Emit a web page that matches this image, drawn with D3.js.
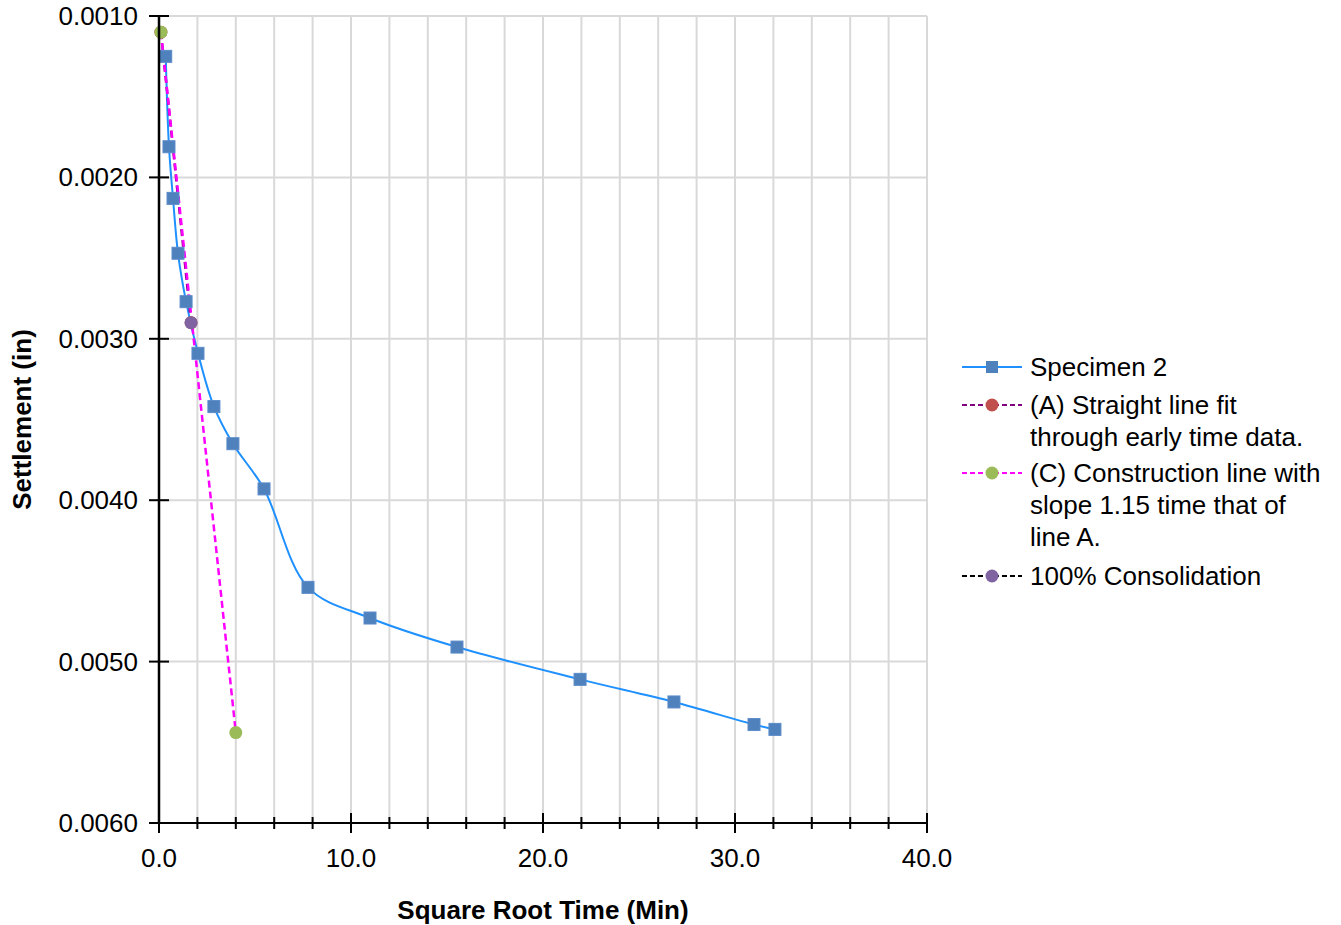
<!DOCTYPE html>
<html>
<head>
<meta charset="utf-8">
<script src="https://cdn.jsdelivr.net/npm/d3@7"></script>
<style>
  html, body { margin: 0; padding: 0; background: #fff; }
  svg { display: block; font-family: "Liberation Sans", Arial, sans-serif; }
</style>
</head>
<body>
<svg id="chart" width="1341" height="925"></svg>
<script>
// Specimen 2: square root of elapsed time (min^0.5) vs settlement (in)
const rootTime = [0.35, 0.52, 0.73, 0.99, 1.41, 2.03, 2.86, 3.85, 5.47, 7.76, 10.99, 15.52, 21.93, 26.82, 30.99, 32.08];
const settlement = [0.00125, 0.00181, 0.00213, 0.00247, 0.00277, 0.00309, 0.00342, 0.00365, 0.00393, 0.00454, 0.00473, 0.00491, 0.00511, 0.00525, 0.00539, 0.00542];

// (A) straight line through the early time data
const lineAX = [0.1, 1.67];
const lineAY = [0.00110, 0.00290];

// (C) construction line, slope 1.15 times that of line A
const lineCX = [0.1, 4.0];
const lineCY = [0.00110, 0.00544];

// 100% consolidation point
const consolX = [1.67];
const consolY = [0.00290];

const xTicks = [0, 10, 20, 30, 40];
const xMinorTicks = d3.range(0, 40.001, 2);
const yTicks = [0.001, 0.002, 0.003, 0.004, 0.005, 0.006];

const legendItems = [
  { lines: ["Specimen 2"], stroke: "#1e90ff", dash: null, marker: "square", fill: "#4f81bd" },
  { lines: ["(A) Straight line fit", "through early time data."], stroke: "#800080", dash: "5,3", marker: "circle", fill: "#c0504d" },
  { lines: ["(C) Construction line with", "slope 1.15 time that of", "line A."], stroke: "#ff00ff", dash: "5,3", marker: "circle", fill: "#9bbb59" },
  { lines: ["100% Consolidation"], stroke: "#000000", dash: "5,3", marker: "circle", fill: "#8064a2" }
];

const svg = d3.select("#chart");
const plot = { left: 159, right: 927, top: 16, bottom: 823 };
const FS = 26;

const x = d3.scaleLinear().domain([0, 40]).range([plot.left, plot.right]);
const y = d3.scaleLinear().domain([0.001, 0.006]).range([plot.top, plot.bottom]);

// gridlines
const grid = svg.append("g");
grid.selectAll("line.v").data(xMinorTicks.filter(d => d > 0)).enter().append("line")
  .attr("x1", d => x(d)).attr("x2", d => x(d))
  .attr("y1", plot.top).attr("y2", plot.bottom)
  .attr("stroke", "#d9d9d9").attr("stroke-width", 2);
grid.selectAll("line.h").data(yTicks.filter(d => d < 0.006)).enter().append("line")
  .attr("x1", plot.left).attr("x2", plot.right)
  .attr("y1", d => y(d)).attr("y2", d => y(d))
  .attr("stroke", "#d9d9d9").attr("stroke-width", 2);

// specimen curve
const pts = rootTime.map((t, i) => [t, settlement[i]]);
svg.append("path")
  .datum(pts)
  .attr("fill", "none")
  .attr("stroke", "#1e90ff")
  .attr("stroke-width", 2)
  .attr("d", d3.line().x(d => x(d[0])).y(d => y(d[1])).curve(d3.curveCatmullRom.alpha(0.5)));

// line A
const aPts = lineAX.map((t, i) => [t, lineAY[i]]);
svg.append("path").datum(aPts)
  .attr("fill", "none").attr("stroke", "#800080").attr("stroke-width", 2.5).attr("stroke-dasharray", "7,4")
  .attr("d", d3.line().x(d => x(d[0])).y(d => y(d[1])));

// line C
const cPts = lineCX.map((t, i) => [t, lineCY[i]]);
svg.append("path").datum(cPts)
  .attr("fill", "none").attr("stroke", "#ff00ff").attr("stroke-width", 2.5).attr("stroke-dasharray", "7,4")
  .attr("d", d3.line().x(d => x(d[0])).y(d => y(d[1])));

// markers
svg.append("g").selectAll("rect").data(pts).enter().append("rect")
  .attr("x", d => x(d[0]) - 6).attr("y", d => y(d[1]) - 6)
  .attr("width", 12).attr("height", 12)
  .attr("fill", "#4f81bd").attr("stroke", "#5b8bc9").attr("stroke-width", 1);
svg.append("g").selectAll("circle").data(aPts).enter().append("circle")
  .attr("cx", d => x(d[0])).attr("cy", d => y(d[1])).attr("r", 6.5).attr("fill", "#c0504d");
svg.append("g").selectAll("circle").data(cPts).enter().append("circle")
  .attr("cx", d => x(d[0])).attr("cy", d => y(d[1])).attr("r", 6.5).attr("fill", "#9bbb59");
svg.append("g").selectAll("circle").data(consolX.map((t, i) => [t, consolY[i]])).enter().append("circle")
  .attr("cx", d => x(d[0])).attr("cy", d => y(d[1])).attr("r", 6.5).attr("fill", "#8064a2");

// axes
const axes = svg.append("g");
axes.append("line").attr("x1", plot.left).attr("x2", plot.right)
  .attr("y1", plot.bottom).attr("y2", plot.bottom).attr("stroke", "#000").attr("stroke-width", 2);
axes.append("line").attr("x1", plot.left).attr("x2", plot.left)
  .attr("y1", plot.top).attr("y2", plot.bottom).attr("stroke", "#000").attr("stroke-width", 2.5);

axes.selectAll("line.xt").data(xMinorTicks).enter().append("line")
  .attr("x1", d => x(d)).attr("x2", d => x(d))
  .attr("y1", d => plot.bottom - (d % 10 === 0 ? 10 : 6))
  .attr("y2", d => plot.bottom + (d % 10 === 0 ? 10 : 6))
  .attr("stroke", "#000").attr("stroke-width", 2);
axes.selectAll("line.yt").data(yTicks).enter().append("line")
  .attr("x1", plot.left - 10).attr("x2", plot.left + 10)
  .attr("y1", d => y(d)).attr("y2", d => y(d))
  .attr("stroke", "#000").attr("stroke-width", 2);

axes.selectAll("text.xl").data(xTicks).enter().append("text")
  .attr("x", d => x(d)).attr("y", 867)
  .attr("text-anchor", "middle").attr("font-size", FS).attr("fill", "#000")
  .text(d => d3.format(".1f")(d));
axes.selectAll("text.yl").data(yTicks).enter().append("text")
  .attr("x", 138).attr("y", d => y(d) + 9)
  .attr("text-anchor", "end").attr("font-size", FS).attr("fill", "#000")
  .text(d => d3.format(".4f")(d));

svg.append("text").attr("x", (plot.left + plot.right) / 2).attr("y", 919)
  .attr("text-anchor", "middle").attr("font-size", FS).attr("font-weight", "bold")
  .text("Square Root Time (Min)");
svg.append("text")
  .attr("transform", `translate(31,${(plot.top + plot.bottom) / 2}) rotate(-90)`)
  .attr("text-anchor", "middle").attr("font-size", FS).attr("font-weight", "bold")
  .text("Settlement (in)");

// legend
const legend = svg.append("g");
const rowStarts = [367, 405, 473, 576];
legendItems.forEach((item, i) => {
  const cy = rowStarts[i];
  const g = legend.append("g");
  g.append("line").attr("x1", 962).attr("x2", 1022).attr("y1", cy).attr("y2", cy)
    .attr("stroke", item.stroke).attr("stroke-width", 2)
    .attr("stroke-dasharray", item.dash);
  if (item.marker === "square") {
    g.append("rect").attr("x", 986).attr("y", cy - 6).attr("width", 12).attr("height", 12).attr("fill", item.fill);
  } else {
    g.append("circle").attr("cx", 992).attr("cy", cy).attr("r", 6.5).attr("fill", item.fill);
  }
  item.lines.forEach((t, j) => {
    g.append("text").attr("x", 1030).attr("y", cy + 9 + j * 32)
      .attr("font-size", FS).attr("fill", "#000").text(t);
  });
});
</script>
</body>
</html>
